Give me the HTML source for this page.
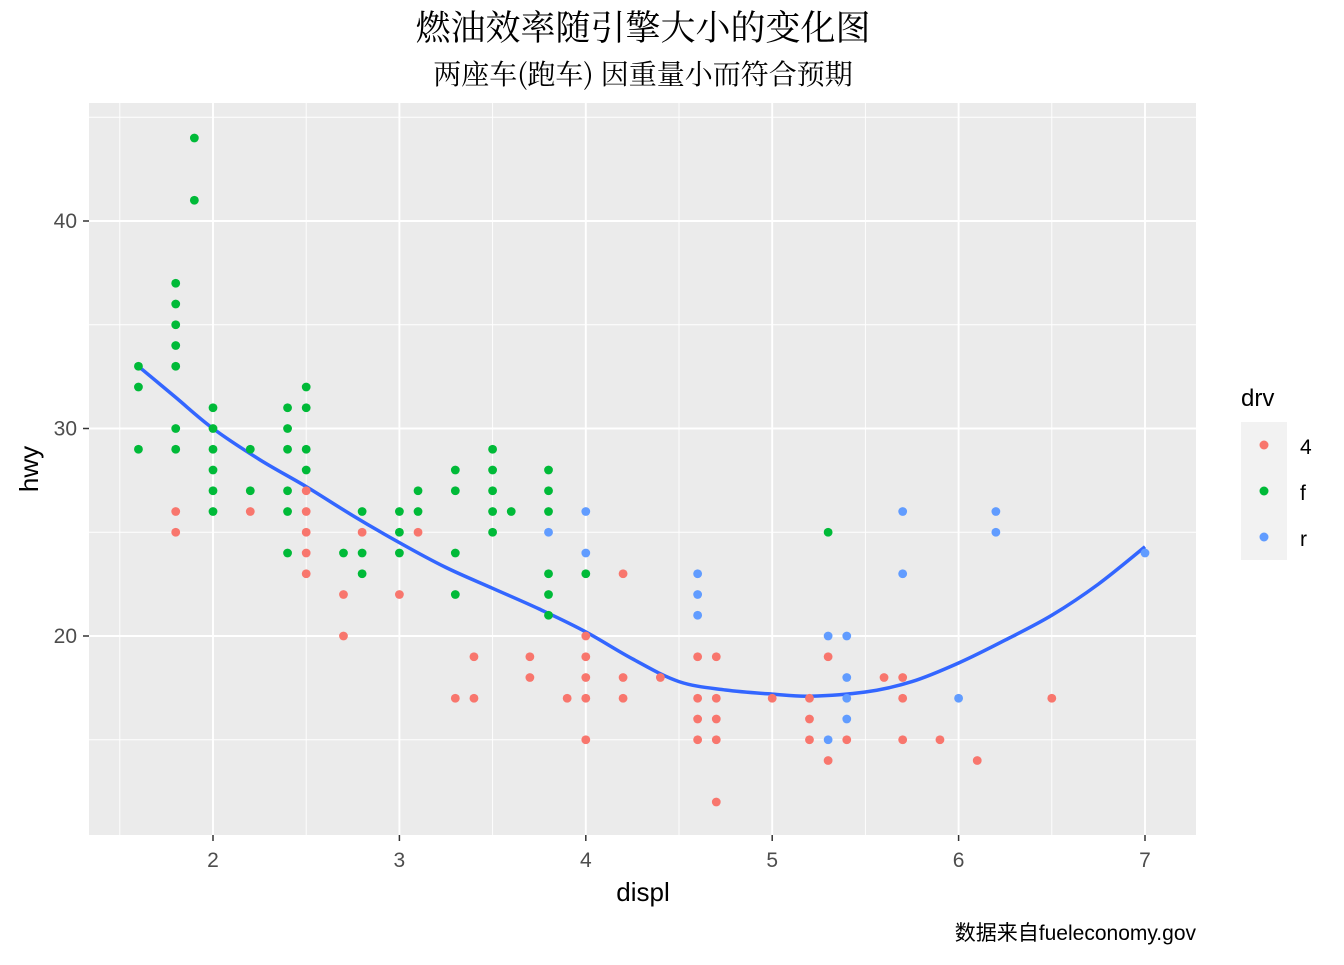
<!DOCTYPE html>
<html><head><meta charset="utf-8"><style>
body{margin:0;background:#fff;}
svg text{font-family:"Liberation Sans","Noto Sans CJK SC",sans-serif;}
</style></head><body>
<svg id="chart" width="1344" height="960" xmlns="http://www.w3.org/2000/svg">
<text x="643" y="40" text-anchor="middle" font-size="35" style="font-family:'Noto Serif CJK SC',serif" fill="#000">燃油效率随引擎大小的变化图</text>
<text x="643" y="84" text-anchor="middle" font-size="28" style="font-family:'Noto Serif CJK SC',serif" fill="#000">两座车(跑车) 因重量小而符合预期</text>
<rect x="89" y="103" width="1107" height="732" fill="#ebebeb"/>
<g id="grid"></g>
<g id="smooth"></g>
<g id="points"></g>
<g id="axes"></g>
<text x="643" y="901" text-anchor="middle" font-size="26" fill="#000">displ</text>
<text transform="translate(38,469) rotate(-90)" text-anchor="middle" font-size="26" fill="#000">hwy</text>
<text x="1196" y="940" text-anchor="end" font-size="21" fill="#000">数据来自fueleconomy.gov</text>
<g>
<text x="1241" y="406" font-size="24" fill="#000">drv</text>
<rect x="1241" y="422" width="46" height="138" fill="#f2f2f2"/>
<circle cx="1264" cy="445" r="4.5" fill="#F8766D"/>
<circle cx="1264" cy="491" r="4.5" fill="#00BA38"/>
<circle cx="1264" cy="537" r="4.5" fill="#619CFF"/>
<text x="1300" y="454" font-size="21">4</text>
<text x="1300" y="500" font-size="21">f</text>
<text x="1300" y="546" font-size="21">r</text>
</g>
</svg>
<script>
const xTicks=[2,3,4,5,6,7];
const xMinor=[1.5,2.5,3.5,4.5,5.5,6.5];
const yTicks=[20,30,40];
const yMinor=[15,25,35,45];
const pts4=[[1.8,26],[1.8,25],[2.2,26],[2.5,27],[2.5,26],[2.5,25],[2.5,24],[2.5,23],[2.7,22],[2.7,20],[2.8,25],[3.0,22],[3.1,25],[3.3,17],[3.4,19],[3.4,17],[3.7,19],[3.7,18],[3.9,17],[4.0,20],[4.0,19],[4.0,18],[4.0,17],[4.0,15],[4.2,23],[4.2,18],[4.2,17],[4.4,18],[4.6,19],[4.6,17],[4.6,16],[4.6,15],[4.7,19],[4.7,17],[4.7,16],[4.7,15],[4.7,12],[5.0,17],[5.2,17],[5.2,16],[5.2,15],[5.3,19],[5.3,14],[5.4,15],[5.6,18],[5.7,18],[5.7,17],[5.7,15],[5.9,15],[6.1,14],[6.5,17]];
const ptsF=[[1.6,33],[1.6,32],[1.6,29],[1.8,37],[1.8,36],[1.8,35],[1.8,34],[1.8,33],[1.8,30],[1.8,29],[1.9,44],[1.9,41],[2.0,31],[2.0,30],[2.0,29],[2.0,28],[2.0,27],[2.0,26],[2.2,29],[2.2,27],[2.4,31],[2.4,30],[2.4,29],[2.4,27],[2.4,26],[2.4,24],[2.5,32],[2.5,31],[2.5,29],[2.5,28],[2.7,24],[2.8,26],[2.8,24],[2.8,23],[3.0,26],[3.0,25],[3.0,24],[3.1,27],[3.1,26],[3.3,28],[3.3,27],[3.3,24],[3.3,22],[3.5,29],[3.5,28],[3.5,27],[3.5,26],[3.5,25],[3.6,26],[3.8,28],[3.8,27],[3.8,26],[3.8,23],[3.8,22],[3.8,21],[4.0,23],[5.3,25]];
const ptsR=[[3.8,25],[4.0,26],[4.0,24],[4.6,23],[4.6,22],[4.6,21],[5.3,20],[5.3,15],[5.4,20],[5.4,18],[5.4,17],[5.4,16],[5.7,26],[5.7,23],[6.0,17],[6.2,26],[6.2,25],[7.0,24]];
const smoothX=[1.6,1.8,2,2.25,2.5,2.75,3,3.25,3.5,3.75,4,4.25,4.5,4.75,5,5.2,5.5,5.75,6,6.25,6.5,6.75,7];
const smoothY=[33,31.5,30,28.5,27.2,25.8,24.5,23.3,22.3,21.3,20.2,18.9,17.8,17.4,17.2,17.1,17.3,17.8,18.7,19.8,21,22.5,24.3];
const NS="http://www.w3.org/2000/svg";
const X=v=>213+(v-2)*186.4, Y=v=>636-(v-20)*20.75;
function mk(t,a,p){const e=document.createElementNS(NS,t);for(const k in a)e.setAttribute(k,a[k]);p.appendChild(e);return e;}
const grid=document.getElementById('grid'),axes=document.getElementById('axes');
xMinor.forEach(v=>{const e=mk('line',{x1:X(v),x2:X(v),y1:103,y2:835,stroke:'#fff','stroke-width':0.9},grid);

});
yMinor.forEach(v=>{const e=mk('line',{x1:89,x2:1196,y1:Y(v),y2:Y(v),stroke:'#fff','stroke-width':0.9},grid);

});
xTicks.forEach(v=>{const e=mk('line',{x1:X(v),x2:X(v),y1:103,y2:835,stroke:'#fff','stroke-width':1.9},grid);


const t=mk('line',{x1:X(v),x2:X(v),y1:835,y2:841,stroke:'#333','stroke-width':1.5},axes);


const l=mk('text',{x:X(v),y:867,'text-anchor':'middle','font-size':21,fill:'#4d4d4d'},axes);l.textContent=v;

});
yTicks.forEach(v=>{const e=mk('line',{x1:89,x2:1196,y1:Y(v),y2:Y(v),stroke:'#fff','stroke-width':1.9},grid);


const t=mk('line',{x1:83,x2:89,y1:Y(v),y2:Y(v),stroke:'#333','stroke-width':1.5},axes);


const l=mk('text',{x:77,y:Y(v)+7,'text-anchor':'end','font-size':21,fill:'#4d4d4d'},axes);l.textContent=v;

});
const pg=document.getElementById('points');
[[pts4,'#F8766D','point-drv-4'],[ptsF,'#00BA38','point-drv-f'],[ptsR,'#619CFF','point-drv-r']].forEach(([arr,c,n])=>arr.forEach(p=>{
const e=mk('circle',{cx:X(p[0]),cy:Y(p[1]),r:4.4,fill:c},pg);

}));
const P=smoothX.map((x,i)=>[X(x),Y(smoothY[i])]);
let d='M'+P[0][0].toFixed(1)+','+P[0][1].toFixed(1);
for(let i=0;i<P.length-1;i++){
const p0=P[Math.max(0,i-1)],p1=P[i],p2=P[i+1],p3=P[Math.min(P.length-1,i+2)];
const c1=[p1[0]+(p2[0]-p0[0])/6,p1[1]+(p2[1]-p0[1])/6],c2=[p2[0]-(p3[0]-p1[0])/6,p2[1]-(p3[1]-p1[1])/6];
d+=' C'+c1.map(v=>v.toFixed(1)).join(',')+' '+c2.map(v=>v.toFixed(1)).join(',')+' '+p2.map(v=>v.toFixed(1)).join(',');}
const s=mk('path',{d:d,fill:'none',stroke:'#3366FF','stroke-width':3.5},document.getElementById('smooth'));


</script>
</body></html>
